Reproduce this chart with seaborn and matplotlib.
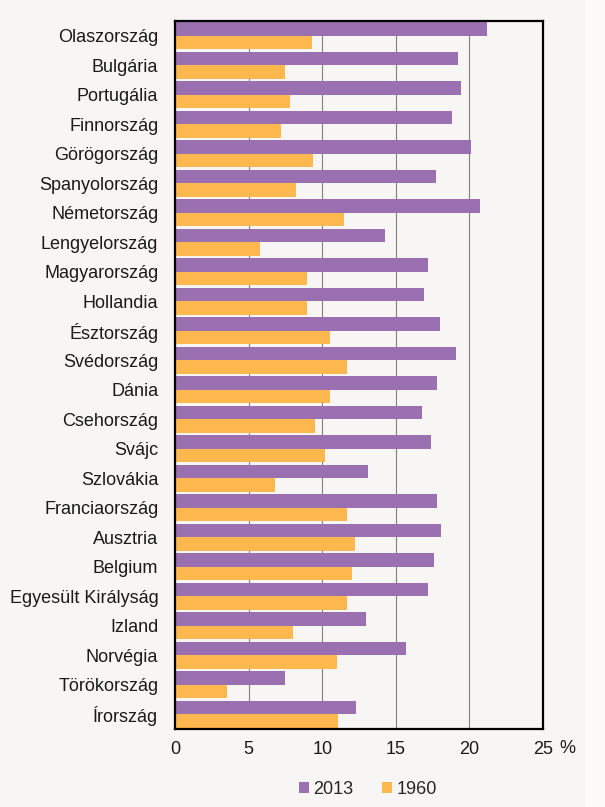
import matplotlib
matplotlib.use('Agg')
import pandas as pd
import matplotlib.pyplot as plt
import seaborn as sns

# Countries, top to bottom
countries = ['Olaszország', 'Bulgária', 'Portugália', 'Finnország', 'Görögország',
             'Spanyolország', 'Németország', 'Lengyelország', 'Magyarország', 'Hollandia',
             'Észtország', 'Svédország', 'Dánia', 'Csehország', 'Svájc', 'Szlovákia',
             'Franciaország', 'Ausztria', 'Belgium', 'Egyesült Királyság', 'Izland',
             'Norvégia', 'Törökország', 'Írország']

# Share of population (%)
values_2013 = [21.2, 19.2, 19.4, 18.8, 20.1, 17.7, 20.7, 14.3, 17.2, 16.9, 18.0, 19.1,
               17.8, 16.8, 17.4, 13.1, 17.8, 18.1, 17.6, 17.2, 13.0, 15.7, 7.5, 12.3]
values_1960 = [9.3, 7.5, 7.8, 7.2, 9.4, 8.2, 11.5, 5.8, 9.0, 9.0, 10.5, 11.7,
               10.5, 9.5, 10.2, 6.8, 11.7, 12.2, 12.0, 11.7, 8.0, 11.0, 3.5, 11.1]
years = ['2013', '1960']
x_ticks = [0, 5, 10, 15, 20, 25]

df = pd.DataFrame({
    'country': countries * 2,
    'value': values_2013 + values_1960,
    'year': [years[0]] * len(countries) + [years[1]] * len(countries),
})

bg = '#F7F6F4'
palette = {'2013': '#9B70B1', '1960': '#FFB84D'}
fs = 13

sns.set_style('white')
plt.rcParams['font.family'] = ['Liberation Sans', 'DejaVu Sans']

fig = plt.figure(figsize=(6.05, 8.07), dpi=100, facecolor=bg)
ax = fig.add_axes([175 / 605, 1 - 729 / 807, 368 / 605, 708 / 807])
ax.set_facecolor(bg)

sns.barplot(data=df, y='country', x='value', hue='year', palette=palette,
            orient='h', width=0.92, linewidth=0, saturation=1, ax=ax)

ax.set_xlim(0, 25)
ax.set_ylim(len(countries) - 0.5, -0.5)
ax.set_xticks(x_ticks)
ax.set_xticklabels([str(t) for t in x_ticks])
ax.set_xlabel('')
ax.set_ylabel('')

ax.grid(axis='x', color='#808080', linewidth=0.8)
ax.set_axisbelow(True)
for s in ax.spines.values():
    s.set_visible(True)
    s.set_color('black')
    s.set_linewidth(1.6)

ax.tick_params(axis='x', direction='out', length=3, width=1.4, labelsize=fs,
               pad=6, colors='black', labelcolor='#1a1a1a')
ax.tick_params(axis='y', length=0, labelsize=fs, pad=12, labelcolor='#1a1a1a')

ax.text(1.065, -0.028, '%', transform=ax.transAxes, fontsize=fs,
        ha='center', va='center', color='#1a1a1a')

handles, labels = ax.get_legend_handles_labels()
ax.get_legend().remove()
fig.legend(handles, labels, loc='center', bbox_to_anchor=(368 / 605, 1 - 789 / 807),
           ncol=2, frameon=False, fontsize=fs, handlelength=0.55, handleheight=0.55,
           handletextpad=0.22, columnspacing=1.6)

# slightly lighter strip on the right edge of the image
fig.patches.append(plt.Rectangle((585 / 605, 0), 20 / 605, 1, transform=fig.transFigure,
                                 facecolor='#FBFAF9', edgecolor='none', zorder=0))

fig.savefig('out.png', dpi=100, facecolor=bg)
